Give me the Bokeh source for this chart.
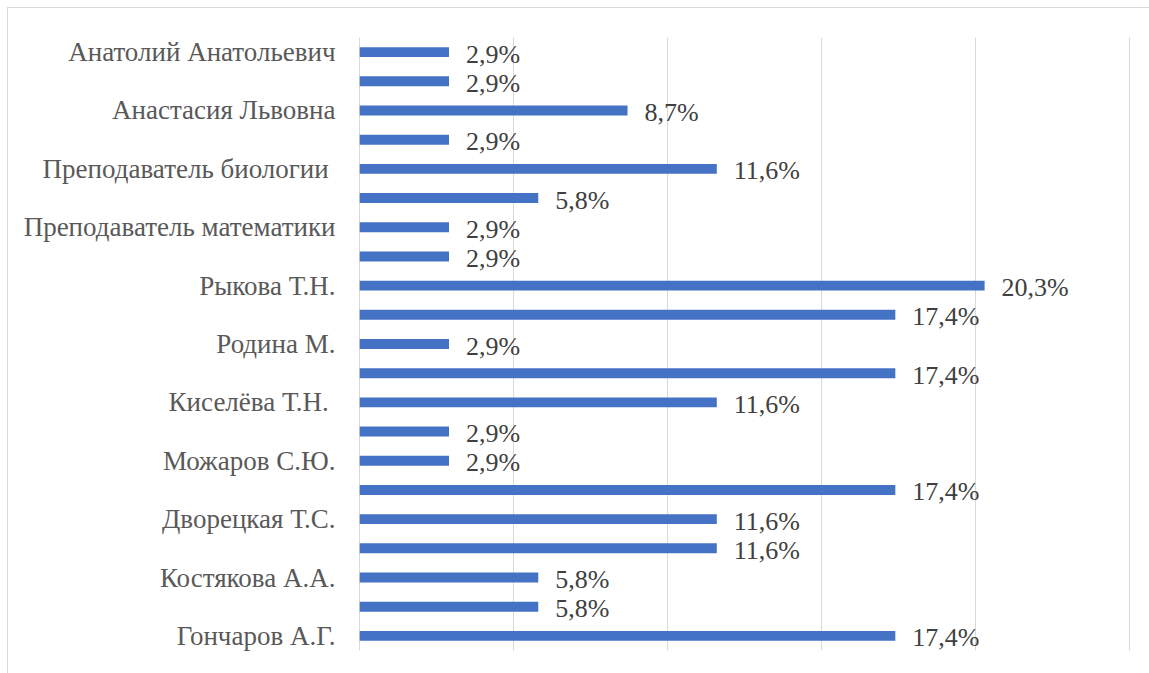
from bokeh.plotting import figure
from bokeh.models import ColumnDataSource, Range1d, FixedTicker, InlineStyleSheet
from bokeh.core.properties import value
from bokeh.embed import file_html
from bokeh.resources import INLINE

# categories listed top to bottom ("" = label not shown in the original)
names = [
    "Анатолий Анатольевич", "", "Анастасия Львовна", "",
    "Преподаватель биологии ", "", "Преподаватель математики", "",
    "Рыкова Т.Н.", "", "Родина М.", "", "Киселёва Т.Н. ", "",
    "Можаров С.Ю.", "", "Дворецкая Т.С.", "", "Костякова А.А.", "",
    "Гончаров А.Г.",
]
values = [2.9, 2.9, 8.7, 2.9, 11.6, 5.8, 2.9, 2.9, 20.3, 17.4, 2.9,
          17.4, 11.6, 2.9, 2.9, 17.4, 11.6, 11.6, 5.8, 5.8, 17.4]
x_ticks = [0, 5, 10, 15, 20, 25]

n = len(names)
ypos = [n - 1 - i for i in range(n)]
labels = [f"{v:.1f}".replace(".", ",") + "%" for v in values]
src = ColumnDataSource(dict(y=ypos, v=values, lab=labels))

FONT = "Times New Roman"

p = figure(width=1149, height=673, output_backend="svg", toolbar_location=None,
           x_range=Range1d(-0.04, 25.04), y_range=Range1d(-0.5, n - 0.5),
           min_border_left=358, min_border_right=19, min_border_top=37,
           min_border_bottom=23)
p.outline_line_color = None
p.background_fill_color = "white"
p.border_fill_color = "white"

p.xaxis.visible = False
p.xgrid.ticker = FixedTicker(ticks=x_ticks)
p.xgrid.grid_line_color = "#d9d9d9"
p.xgrid.grid_line_width = 1
p.ygrid.grid_line_color = None

p.yaxis.ticker = FixedTicker(ticks=ypos)
p.yaxis.major_label_overrides = {y: nm for y, nm in zip(ypos, names)}
p.yaxis.axis_line_color = None
p.yaxis.major_tick_line_color = None
p.yaxis.minor_tick_line_color = None
p.yaxis.major_tick_out = 0
p.yaxis.major_tick_in = 0
p.yaxis.major_label_standoff = 23
p.yaxis.major_label_text_font = FONT
p.yaxis.major_label_text_font_size = "27px"
p.yaxis.major_label_text_color = "#595959"

p.hbar(y="y", right="v", left=0, height=0.34, source=src,
       fill_color="#4472C4", line_color=None)
p.text(x="v", y="y", text="lab", source=src, x_offset=17, y_offset=2,
       text_baseline="middle", text_align="left",
       text_font=value(FONT), text_font_size="26px", text_color="#404040")

p.stylesheets = [InlineStyleSheet(css=(
    ":host::after { content: ''; position: absolute; left: 7px; top: 7px; "
    "width: 1200px; height: 800px; border-left: 1px solid #d9d9d9; "
    "border-top: 1px solid #d9d9d9; pointer-events: none; }"
    ":host { overflow: hidden; }"
))]

open("out.html", "w").write(file_html(p, INLINE))
